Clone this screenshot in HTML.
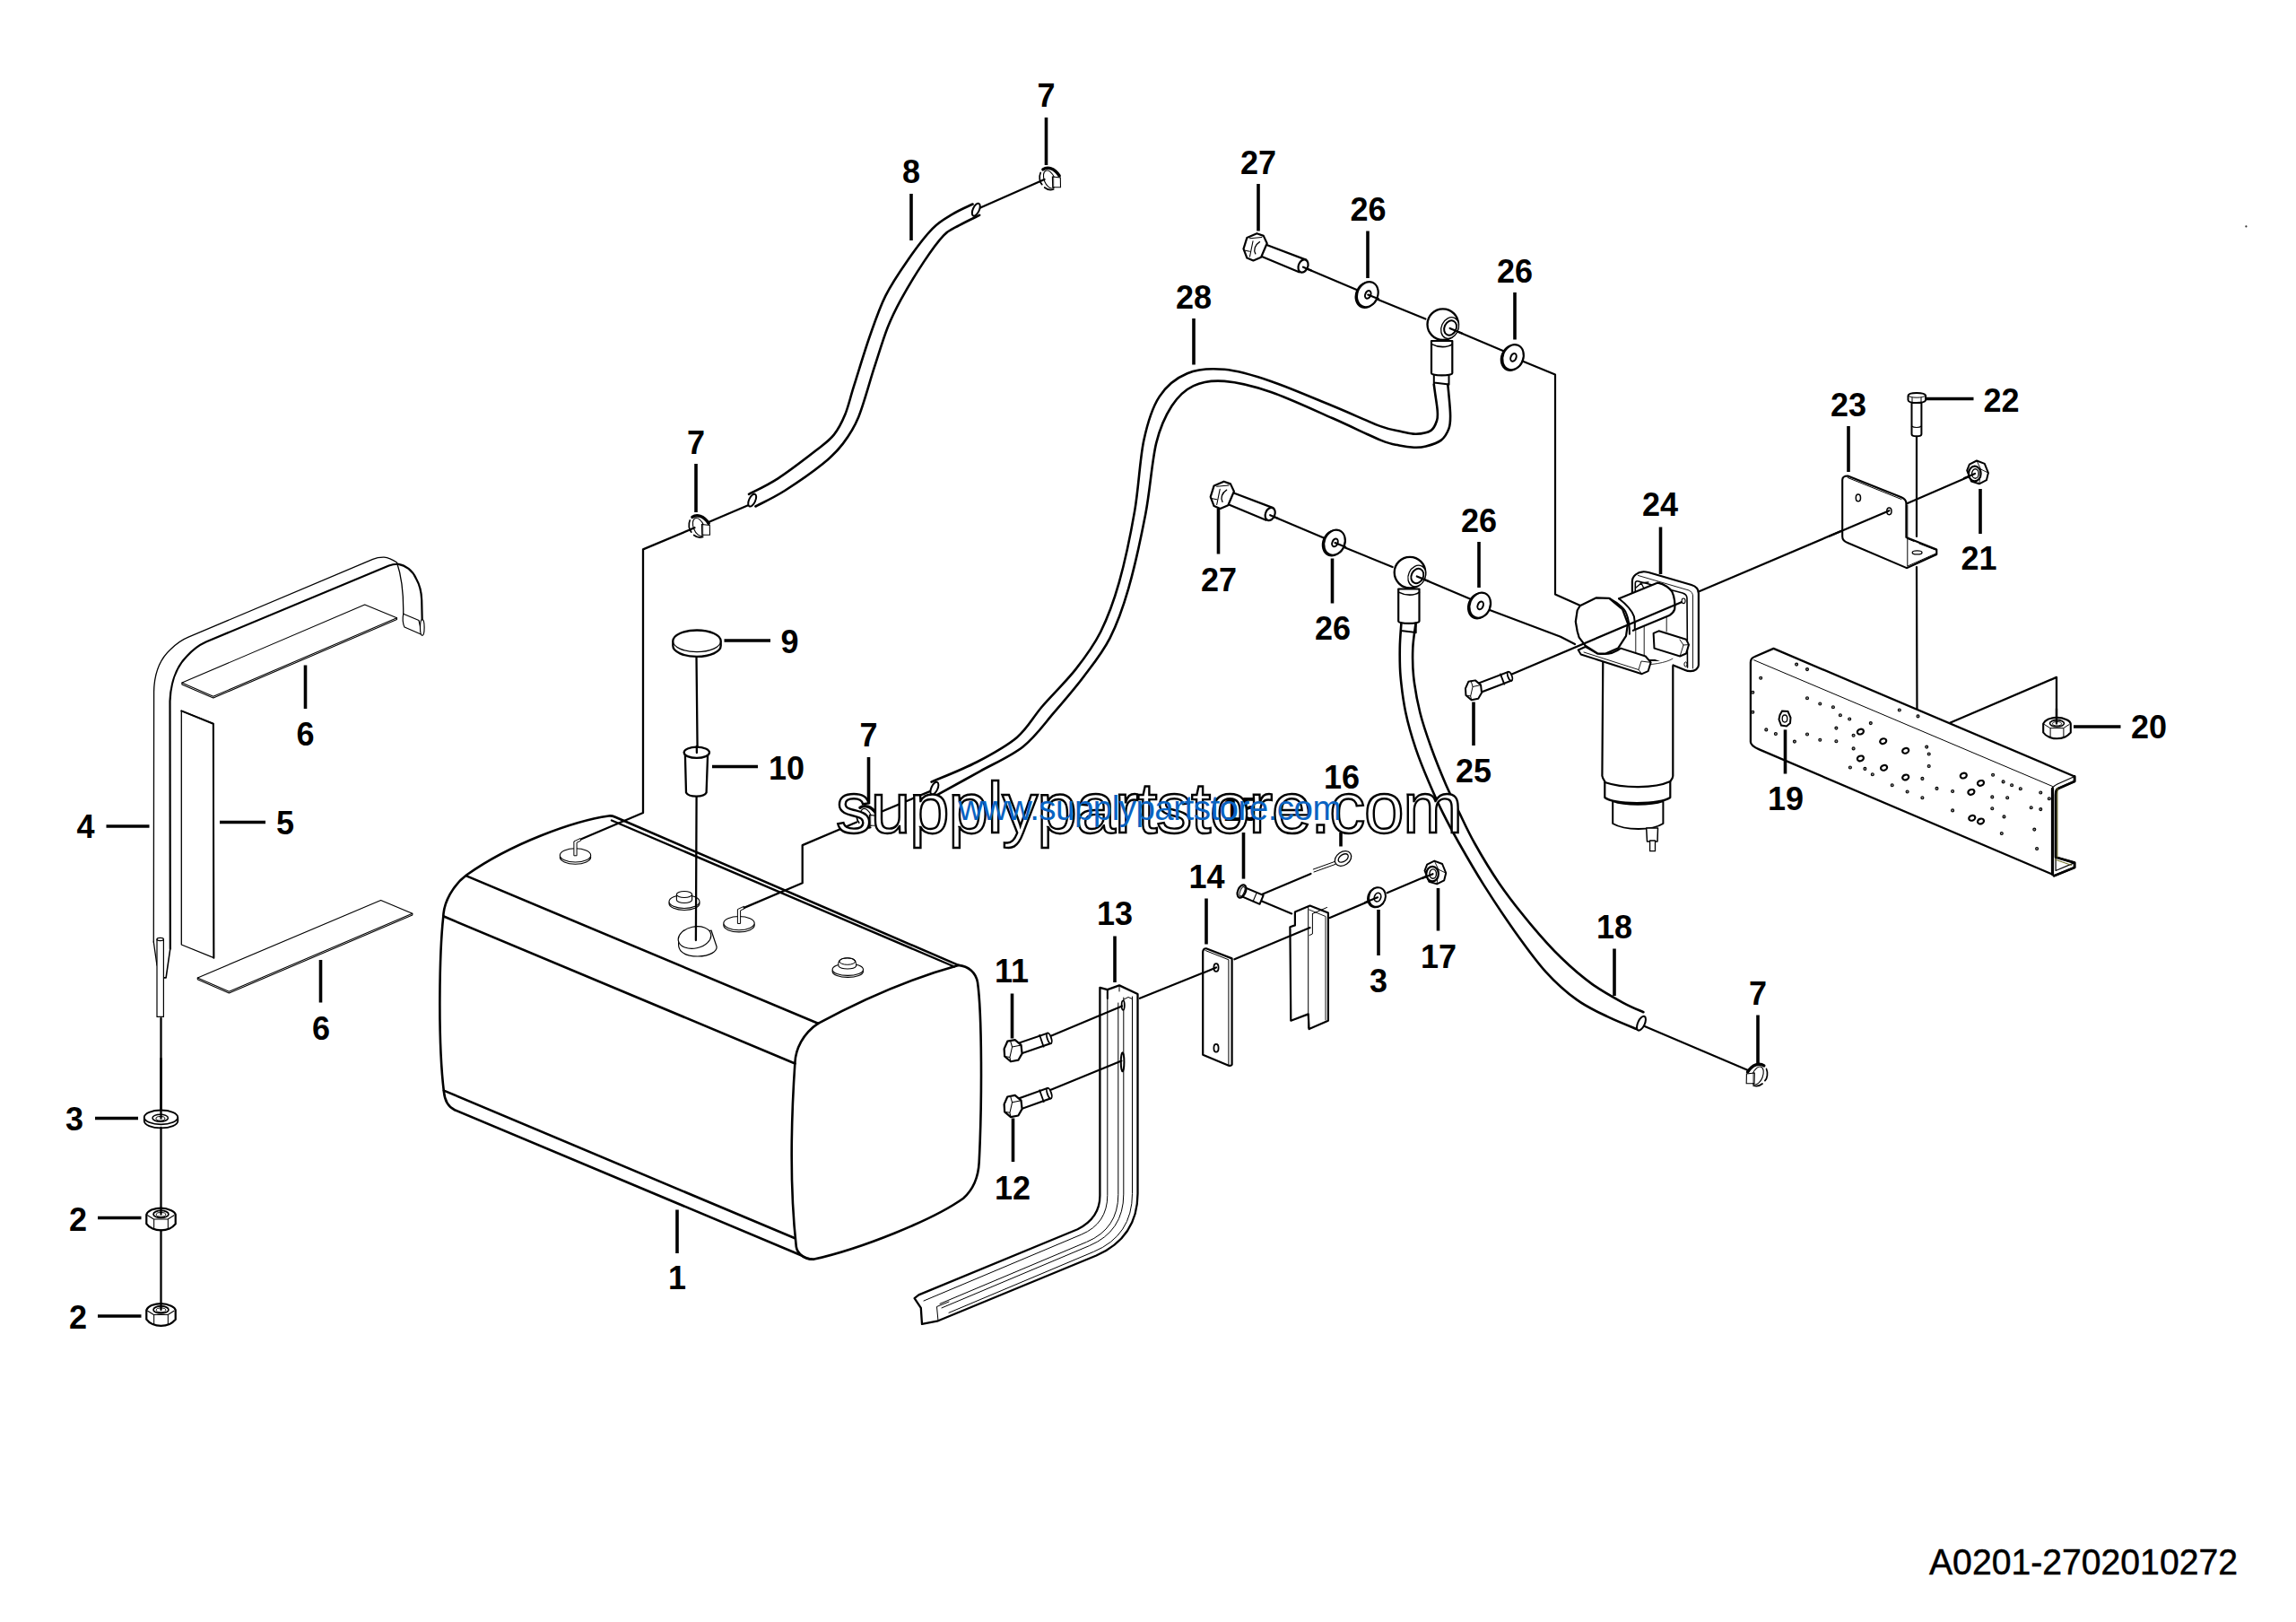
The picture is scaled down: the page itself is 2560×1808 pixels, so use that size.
<!DOCTYPE html><html><head><meta charset="utf-8"><style>html,body{margin:0;padding:0;background:#fff;overflow:hidden}svg{display:block}</style></head><body><svg width="2560" height="1808" viewBox="0 0 2560 1808">
<rect width="2560" height="1808" fill="#fff"/>
<path d="M678.8 909.5 C640 915 570 940 520 975.5 C505 987 495 1005 494.3 1021.3 C490 1060 488 1160 494.9 1216.9 C496 1228 500 1234 507 1237.2 L893.2 1399.2 C897 1402 901 1403.8 906.7 1403.8 C960 1392 1040 1360 1074.1 1335.7 C1086 1325 1091 1310 1091.7 1295.2 C1095 1230 1095 1130 1090 1095 C1088 1084 1080 1077 1068.6 1075.9 L686 910.8 C683 909.5 681 909.2 678.8 909.5 Z" fill="#fff" stroke="#000" stroke-width="2.6" stroke-linejoin="round"/>
<path d="M520.1 976.4 L912.1 1140.8" fill="none" stroke="#000" stroke-width="2.6" stroke-linejoin="round" stroke-linecap="round" />
<path d="M912.1 1140.8 C960 1115 1010 1092 1068.6 1075.9" fill="none" stroke="#000" stroke-width="2.6" stroke-linejoin="round" stroke-linecap="round" />
<path d="M494.3 1021.3 L886.4 1185.5" fill="none" stroke="#000" stroke-width="2.6" stroke-linejoin="round" stroke-linecap="round" />
<path d="M912.1 1140.8 C895 1152 887 1170 886.4 1184.5 C882 1250 880 1320 887.8 1389.8 C889 1398 897 1403 906.7 1403.8" fill="none" stroke="#000" stroke-width="2.6" stroke-linejoin="round" stroke-linecap="round" />
<path d="M494.9 1215.6 L886.4 1380.3" fill="none" stroke="#000" stroke-width="2.6" stroke-linejoin="round" stroke-linecap="round" />
<path d="M682 914.5 L1064 1077.5" fill="none" stroke="#000" stroke-width="2.4" stroke-linejoin="round" stroke-linecap="round" />
<ellipse cx="641.5" cy="955.6" rx="17.2" ry="7.6" fill="#fff" stroke="#000" stroke-width="1.1" transform="rotate(0 641.5 955.6)"/>
<ellipse cx="641.5" cy="953.4" rx="17.2" ry="7.6" fill="#fff" stroke="#000" stroke-width="1.1" transform="rotate(0 641.5 953.4)"/>
<path d="M639.9 953.4 L639.9 937.9 L647.0 934.6 L647.7 937.0 L643.1 939.2 L643.1 953.4 Z" fill="#fff" stroke="#000" stroke-width="1.0" stroke-linejoin="round" stroke-linecap="round"/>
<ellipse cx="824" cy="1031.3" rx="17.2" ry="7.6" fill="#fff" stroke="#000" stroke-width="1.1" transform="rotate(0 824 1031.3)"/>
<ellipse cx="824" cy="1029.1" rx="17.2" ry="7.6" fill="#fff" stroke="#000" stroke-width="1.1" transform="rotate(0 824 1029.1)"/>
<path d="M822.4 1029.1 L822.4 1013.6 L829.5 1010.3 L830.2 1012.7 L825.6 1014.9 L825.6 1029.1 Z" fill="#fff" stroke="#000" stroke-width="1.0" stroke-linejoin="round" stroke-linecap="round"/>
<ellipse cx="763" cy="1007" rx="17" ry="7.5" fill="#fff" stroke="#000" stroke-width="1.1" transform="rotate(0 763 1007)"/>
<ellipse cx="763" cy="1005" rx="17" ry="7.5" fill="#fff" stroke="#000" stroke-width="1.1" transform="rotate(0 763 1005)"/>
<path d="M754.4 997 L754.4 1003 A8.6 3.5 0 0 0 771.6 1003 L771.6 997" fill="#fff" stroke="#000" stroke-width="1.1" stroke-linejoin="round" stroke-linecap="round"/>
<ellipse cx="763" cy="997" rx="8.6" ry="3.5" fill="#fff" stroke="#000" stroke-width="1.1" transform="rotate(0 763 997)"/>
<path d="M757 1049 C755 1058 760 1066 778 1066 C792 1066 800 1060 799 1055 L793 1037 Z" fill="#fff" stroke="#000" stroke-width="1.2" stroke-linejoin="round" stroke-linecap="round"/>
<ellipse cx="774.5" cy="1045" rx="18.5" ry="12" fill="#fff" stroke="#000" stroke-width="1.2" transform="rotate(-12 774.5 1045)"/>
<ellipse cx="945.3" cy="1082.7" rx="17.2" ry="6.7" fill="#fff" stroke="#000" stroke-width="1.1" transform="rotate(0 945.3 1082.7)"/>
<ellipse cx="945.3" cy="1080.7" rx="17.2" ry="6.7" fill="#fff" stroke="#000" stroke-width="1.1" transform="rotate(0 945.3 1080.7)"/>
<path d="M935 1077 C934 1072 936 1068 944.8 1068 C953 1068 955 1072 954.6 1077 C952 1081 938 1081 935 1077 Z" fill="#fff" stroke="#000" stroke-width="1.1" stroke-linejoin="round" stroke-linecap="round"/>
<ellipse cx="944.8" cy="1071.5" rx="9" ry="3.8" fill="none" stroke="#000" stroke-width="1.0" transform="rotate(0 944.8 1071.5)"/>
<path d="M776.5 731.0 L777.6 835.0" fill="none" stroke="#000" stroke-width="2.3" stroke-linejoin="round" stroke-linecap="round" />
<path d="M776.6 888.0 L775.9 1048.0" fill="none" stroke="#000" stroke-width="2.3" stroke-linejoin="round" stroke-linecap="round" />
<path d="M750.3 714.6 A26.7 12.1 0 0 1 803.7 714.6 L803.7 719.8 A26.7 12.1 0 0 1 750.3 719.8 Z" fill="#fff" stroke="#000" stroke-width="2.3" stroke-linejoin="round" stroke-linecap="round"/>
<path d="M750.3 714.6 A26.7 12.1 0 0 0 803.7 714.6" fill="none" stroke="#000" stroke-width="1.2" stroke-linejoin="round" stroke-linecap="round" />
<path d="M763.9 841 L765 883.5 C768 889 785 889 787.6 883.5 L789.1 841 Z" fill="#fff" stroke="#000" stroke-width="2.3" stroke-linejoin="round" stroke-linecap="round"/>
<ellipse cx="776.8" cy="838.8" rx="14.2" ry="6.1" fill="#fff" stroke="#000" stroke-width="2.3" transform="rotate(0 776.8 838.8)"/>
<path d="M776.8 832.0 L776.9 839.0" fill="none" stroke="#000" stroke-width="2.3" stroke-linejoin="round" stroke-linecap="round" />
<path d="M648.2 935.3 L717.0 906.0 L717.0 612.4 L774.4 588.3" fill="none" stroke="#000" stroke-width="2.3" stroke-linejoin="round" stroke-linecap="round" />
<path d="M790.1 582.0 L837.0 562.0" fill="none" stroke="#000" stroke-width="2.3" stroke-linejoin="round" stroke-linecap="round" />
<path d="M829.7 1011.9 L894.7 984.2 L894.7 942.1 L955.0 916.5" fill="none" stroke="#000" stroke-width="2.3" stroke-linejoin="round" stroke-linecap="round" />
<path d="M978.0 906.8 L1042.8 879.6" fill="none" stroke="#000" stroke-width="2.3" stroke-linejoin="round" stroke-linecap="round" />
<path d="M1092.0 232.0 L1164.5 200.0" fill="none" stroke="#000" stroke-width="2.3" stroke-linejoin="round" stroke-linecap="round" />
<g transform="translate(779.7 586.5)" fill="none" stroke="#000" stroke-linecap="round">
<path d="M-10.5 -6.5 C-12.5 -2 -11.5 4 -8.9 6.7" stroke-width="1.7"/>
<path d="M-6 10 C-3 12.5 1 13 4 12" stroke-width="1.7"/>
<ellipse cx="-0.6" cy="1" rx="5.8" ry="10.5" transform="rotate(-22 -0.6 1)" stroke-width="1.1"/>
<path d="M-7.8 -10.1 C-3 -13.5 5 -12 10.5 -3" stroke-width="3.4"/>
<path d="M2.7 -2 L11.6 -1 L11.8 9.6 L3 9.8 Z" fill="#fff" stroke-width="1.1"/>
<path d="M4 -2 L4 9.5" stroke-width="0.8"/>
</g>
<g transform="translate(1170.7 199)" fill="none" stroke="#000" stroke-linecap="round">
<path d="M-10.5 -6.5 C-12.5 -2 -11.5 4 -8.9 6.7" stroke-width="1.7"/>
<path d="M-6 10 C-3 12.5 1 13 4 12" stroke-width="1.7"/>
<ellipse cx="-0.6" cy="1" rx="5.8" ry="10.5" transform="rotate(-22 -0.6 1)" stroke-width="1.1"/>
<path d="M-7.8 -10.1 C-3 -13.5 5 -12 10.5 -3" stroke-width="3.4"/>
<path d="M2.7 -2 L11.6 -1 L11.8 9.6 L3 9.8 Z" fill="#fff" stroke-width="1.1"/>
<path d="M4 -2 L4 9.5" stroke-width="0.8"/>
</g>
<g transform="translate(966.7 910.4)" fill="none" stroke="#000" stroke-linecap="round">
<path d="M-10.5 -6.5 C-12.5 -2 -11.5 4 -8.9 6.7" stroke-width="1.7"/>
<path d="M-6 10 C-3 12.5 1 13 4 12" stroke-width="1.7"/>
<ellipse cx="-0.6" cy="1" rx="5.8" ry="10.5" transform="rotate(-22 -0.6 1)" stroke-width="1.1"/>
<path d="M-7.8 -10.1 C-3 -13.5 5 -12 10.5 -3" stroke-width="3.4"/>
<path d="M2.7 -2 L11.6 -1 L11.8 9.6 L3 9.8 Z" fill="#fff" stroke-width="1.1"/>
<path d="M4 -2 L4 9.5" stroke-width="0.8"/>
</g>
<path d="M835.0 550.8 C840.4 547.9 854.9 541.4 867.4 533.3 C879.9 525.2 899.5 510.1 909.9 502.0 C920.3 493.9 924.4 491.3 929.8 484.6 C935.2 477.9 938.5 471.1 942.3 462.0 C946.0 452.9 947.7 444.2 952.3 429.7 C956.9 415.2 964.0 391.4 969.8 374.8 C975.6 358.2 980.2 344.0 987.3 329.8 C994.4 315.6 1003.5 302.4 1012.2 289.9 C1020.9 277.4 1031.4 263.4 1039.7 254.9 C1048.0 246.4 1054.7 243.3 1062.2 238.7 C1069.7 234.1 1080.9 229.4 1084.6 227.5" fill="none" stroke="#000" stroke-width="2.6" stroke-linejoin="round" stroke-linecap="round" />
<path d="M842.4 564.5 C847.8 561.6 862.4 554.9 874.9 547.0 C887.4 539.1 906.6 525.8 917.4 517.1 C928.2 508.4 933.1 503.3 939.8 494.6 C946.4 485.9 951.5 478.9 957.3 464.7 C963.1 450.5 969.4 426.3 974.8 409.7 C980.2 393.1 984.8 377.5 989.8 364.8 C994.8 352.1 998.1 345.7 1004.7 333.6 C1011.4 321.5 1021.8 304.3 1029.7 292.4 C1037.6 280.5 1045.6 269.3 1052.2 262.4 C1058.8 255.5 1062.9 254.9 1069.6 251.2 C1076.2 247.4 1088.3 241.8 1092.1 239.9" fill="none" stroke="#000" stroke-width="2.6" stroke-linejoin="round" stroke-linecap="round" />
<ellipse cx="838.7" cy="557.6" rx="3.5" ry="7.5" fill="#fff" stroke="#000" stroke-width="2.0" transform="rotate(25 838.7 557.6)"/>
<ellipse cx="1088.3" cy="233.7" rx="3.5" ry="7.5" fill="#fff" stroke="#000" stroke-width="2.0" transform="rotate(25 1088.3 233.7)"/>
<path d="M1598.8 428.8 C1599.1 430.8 1599.8 436.2 1600.5 441.0 C1601.2 445.8 1602.4 453.0 1602.7 457.6 C1603.0 462.2 1603.3 465.0 1602.1 468.7 C1600.9 472.4 1599.4 477.3 1595.5 479.8 C1591.6 482.3 1584.3 483.5 1578.8 483.7 C1573.2 483.9 1568.7 482.3 1562.2 480.9 C1555.7 479.5 1552.7 480.1 1540.0 475.4 C1527.3 470.7 1506.5 460.9 1486.0 452.5 C1465.5 444.1 1437.1 431.7 1417.0 424.9 C1396.9 418.1 1380.7 413.2 1365.2 411.8 C1349.7 410.4 1335.9 411.1 1323.8 416.2 C1311.7 421.2 1300.8 429.7 1292.7 442.1 C1284.6 454.5 1280.0 469.2 1275.4 490.5 C1270.8 511.8 1269.7 543.4 1265.1 569.9 C1260.5 596.4 1254.1 626.8 1247.8 649.2 C1241.5 671.6 1235.1 688.4 1227.1 704.5 C1219.0 720.6 1210.3 732.1 1199.5 745.9 C1188.7 759.7 1172.9 774.8 1162.0 787.5 C1151.1 800.2 1146.1 811.6 1133.9 821.9 C1121.7 832.2 1104.9 841.2 1089.0 849.5 C1073.1 857.8 1046.9 867.9 1038.5 871.6" fill="none" stroke="#000" stroke-width="2.6" stroke-linejoin="round" stroke-linecap="round" />
<path d="M1614.3 428.8 C1614.5 430.8 1615.0 435.3 1615.5 441.0 C1616.0 446.7 1617.1 457.1 1617.1 463.2 C1617.1 469.3 1617.2 473.0 1615.5 477.6 C1613.8 482.2 1610.9 487.6 1606.6 490.9 C1602.3 494.2 1594.9 496.2 1589.9 497.5 C1584.9 498.8 1581.6 498.9 1576.6 498.7 C1571.6 498.5 1566.1 497.7 1560.0 496.4 C1553.9 495.1 1552.3 495.9 1540.0 490.9 C1527.7 485.9 1506.5 475.3 1486.0 466.3 C1465.5 457.3 1437.1 443.9 1417.0 437.0 C1396.9 430.1 1379.6 426.0 1365.2 424.9 C1350.8 423.8 1340.5 425.5 1330.7 430.1 C1320.9 434.7 1313.4 441.9 1306.5 452.5 C1299.6 463.1 1294.1 473.8 1289.2 493.9 C1284.3 514.0 1282.4 546.3 1277.2 573.3 C1272.0 600.3 1264.8 633.1 1258.2 656.1 C1251.6 679.1 1245.8 695.0 1237.5 711.4 C1229.2 727.8 1218.5 740.7 1208.1 754.5 C1197.7 768.3 1186.5 781.2 1175.3 794.2 C1164.1 807.2 1154.6 821.3 1140.8 832.2 C1127.0 843.1 1108.4 850.9 1092.5 859.8 C1076.6 868.7 1053.2 881.5 1045.3 885.8" fill="none" stroke="#000" stroke-width="2.6" stroke-linejoin="round" stroke-linecap="round" />
<ellipse cx="1041.9" cy="878.7" rx="3.5" ry="7.5" fill="#fff" stroke="#000" stroke-width="2.0" transform="rotate(25 1041.9 878.7)"/>
<path d="M171.3 1050 L171.6 770.9 C172 750 178 735 190 724 C196 718 203 713 210.1 710.1 L415.7 623.4 C420 621.5 424 621 428.2 621.1 C433 621.5 438 624 442.5 627 C447 640 450 660 449.7 684" fill="none" stroke="#000" stroke-width="1.3" stroke-linejoin="round" stroke-linecap="round" />
<path d="M189.8 1057.5 L189.5 781.6 C190 765 195 745 208.3 731.6 C215 724 222 719 229.7 715.5 L433.6 630.6 C437 629.2 441 628.6 444.3 628.8 C452 630 460 636 464 645 C468 652 470 662 470.2 669 L470.7 692" fill="none" stroke="#000" stroke-width="2.2" stroke-linejoin="round" stroke-linecap="round" />
<path d="M171.3 1050 L175 1076" fill="none" stroke="#000" stroke-width="1.3" stroke-linejoin="round" stroke-linecap="round" />
<path d="M189.8 1057.5 L185.1 1089.9 L183.3 1089.9" fill="none" stroke="#000" stroke-width="1.6" stroke-linejoin="round" stroke-linecap="round" />
<path d="M449.7 684.2 L467 691.5 L470.5 707.5 L451 699 C449 695 449 688 449.7 684.2 Z" fill="#fff" stroke="#000" stroke-width="1.2" stroke-linejoin="round" stroke-linecap="round"/>
<ellipse cx="470.8" cy="699.5" rx="2.3" ry="8.8" fill="#fff" stroke="#000" stroke-width="1.2" transform="rotate(0 470.8 699.5)"/>
<path d="M175 1047 L175 1133.4 L182.4 1133.4 L182.4 1047" fill="#fff" stroke="#000" stroke-width="1.2" stroke-linejoin="round" stroke-linecap="round"/>
<ellipse cx="178.7" cy="1047" rx="3.7" ry="1.6" fill="#fff" stroke="#000" stroke-width="1.2" transform="rotate(0 178.7 1047)"/>
<path d="M179.5 1135.2 L179.5 1240.0" fill="none" stroke="#000" stroke-width="2.3" stroke-linejoin="round" stroke-linecap="round" />
<path d="M202.9 761.1 L406.7 674 L442.5 688.7 L442.5 690.5 L237.8 778 L202.9 762.9 Z" fill="#fff" stroke="#000" stroke-width="1.1" stroke-linejoin="round" stroke-linecap="round"/>
<path d="M202.9 761.1 L237.8 776.3 L442.5 688.7" fill="none" stroke="#000" stroke-width="1.1" stroke-linejoin="round" stroke-linecap="round" />
<path d="M202.3 792.4 L237.8 806.7 L238.4 1067.7 L202.3 1053 Z" fill="#fff" stroke="#000" stroke-width="1.3" stroke-linejoin="round" stroke-linecap="round"/>
<path d="M202.3 792.4 L237.8 806.7 L238.4 1067.7" fill="none" stroke="#000" stroke-width="2.0" stroke-linejoin="round" stroke-linecap="round" />
<path d="M220.3 1089.9 L424.6 1003.5 L459.8 1018.3 L459.8 1020 L255.4 1107 L220.3 1091.7 Z" fill="#fff" stroke="#000" stroke-width="1.1" stroke-linejoin="round" stroke-linecap="round"/>
<path d="M220.3 1089.9 L255.4 1105.3 L459.8 1018.3" fill="none" stroke="#000" stroke-width="1.1" stroke-linejoin="round" stroke-linecap="round" />
<path d="M160.8 1245.4 L160.8 1249.5 A18.7 7.9 0 0 0 198.3 1249.5 L198.3 1245.4" fill="#fff" stroke="#000" stroke-width="1.8" stroke-linejoin="round" stroke-linecap="round"/>
<ellipse cx="179.5" cy="1245.4" rx="18.7" ry="7.9" fill="#fff" stroke="#000" stroke-width="1.8" transform="rotate(0 179.5 1245.4)"/>
<ellipse cx="178.7" cy="1246.2" rx="8.7" ry="4.0" fill="none" stroke="#000" stroke-width="1.5" transform="rotate(0 178.7 1246.2)"/>
<ellipse cx="178.9" cy="1246.8" rx="5.0" ry="2.3" fill="none" stroke="#000" stroke-width="1.0" transform="rotate(0 178.9 1246.8)"/>
<path d="M179.5 1180.0 L179.5 1246.5" fill="none" stroke="#000" stroke-width="2.3" stroke-linejoin="round" stroke-linecap="round" />
<g transform="translate(179.5 1359) rotate(0) scale(1.06)" fill="#fff" stroke="#000" stroke-linejoin="round">
<path d="M-15.3 -4.9 C-14 -8 -12 -9 -10 -9.9 C-6 -11.3 -3 -11.7 0 -11.7 C3 -11.7 7 -11 10.8 -9.3 C13 -8.3 15 -6.5 15.3 -4.9 L15.3 4.9 C13 7.5 11 9 9 9.9 C6 11.2 3 11.7 0 11.7 C-3 11.7 -6 11.2 -8.8 9.9 C-11 9 -13.5 7.5 -15.3 4.9 Z" stroke-width="2.1"/>
<path d="M-14.4 -4.3 L-7.6 0 L7.2 0 L14 -4.3 M-7.4 0 L-7.4 9.9 M7.4 0 L7.4 9.9" fill="none" stroke-width="1.0"/>
<ellipse cx="0" cy="-5.3" rx="8" ry="3.7" fill="none" stroke-width="1.6"/>
<ellipse cx="0" cy="-4.9" rx="5" ry="2.2" fill="none" stroke-width="0.9"/>
</g>
<g transform="translate(179.5 1465.5) rotate(0) scale(1.06)" fill="#fff" stroke="#000" stroke-linejoin="round">
<path d="M-15.3 -4.9 C-14 -8 -12 -9 -10 -9.9 C-6 -11.3 -3 -11.7 0 -11.7 C3 -11.7 7 -11 10.8 -9.3 C13 -8.3 15 -6.5 15.3 -4.9 L15.3 4.9 C13 7.5 11 9 9 9.9 C6 11.2 3 11.7 0 11.7 C-3 11.7 -6 11.2 -8.8 9.9 C-11 9 -13.5 7.5 -15.3 4.9 Z" stroke-width="2.1"/>
<path d="M-14.4 -4.3 L-7.6 0 L7.2 0 L14 -4.3 M-7.4 0 L-7.4 9.9 M7.4 0 L7.4 9.9" fill="none" stroke-width="1.0"/>
<ellipse cx="0" cy="-5.3" rx="8" ry="3.7" fill="none" stroke-width="1.6"/>
<ellipse cx="0" cy="-4.9" rx="5" ry="2.2" fill="none" stroke-width="0.9"/>
</g>
<path d="M179.5 1257.0 L179.5 1353.5" fill="none" stroke="#000" stroke-width="2.3" stroke-linejoin="round" stroke-linecap="round" />
<path d="M179.5 1371.5 L179.5 1460.0" fill="none" stroke="#000" stroke-width="2.3" stroke-linejoin="round" stroke-linecap="round" />
<path d="M1452.3 297.4 L1515.0 324.1" fill="none" stroke="#000" stroke-width="2.2" stroke-linejoin="round" stroke-linecap="round" />
<path d="M1526.8 330.0 L1589.4 355.5" fill="none" stroke="#000" stroke-width="2.2" stroke-linejoin="round" stroke-linecap="round" />
<path d="M1616.6 366.0 L1678.1 392.1" fill="none" stroke="#000" stroke-width="2.2" stroke-linejoin="round" stroke-linecap="round" />
<g transform="translate(1399 276) rotate(0) scale(1.0)" stroke="#000" stroke-linejoin="round" stroke-linecap="round"><path d="M5.5 -6 L57.2 13.6 L49.4 27.3 L0.8 6.9 Z" fill="#fff" stroke-width="2.2"/><ellipse cx="54" cy="20.5" rx="5.2" ry="7.4" transform="rotate(22 54 20.5)" fill="#fff" stroke-width="2.2"/><path d="M-12.5 1.4 L-8.6 -11.1 L2.4 -15.8 L9.8 -13.1 L13.7 -4.8 L7.1 10.8 L-1.6 14.4 L-8.6 11.6 Z" fill="#fff" stroke-width="2.2"/><path d="M-5.5 -10.3 L7.8 -11.5 M-2 -7.2 L-5.5 10 M-11.8 3 L-5.5 4.2" fill="none" stroke-width="1.1"/><path d="M5.5 -6.4 C0 -3 -1.5 3 0.8 6.9" fill="none" stroke-width="1.3"/></g>
<g transform="translate(1524.8 328.2) rotate(0) scale(1.0)" stroke="#000" stroke-linejoin="round" stroke-linecap="round"><ellipse cx="-1.3" cy="0.6" rx="11.4" ry="14.4" transform="rotate(22 -1.3 0.6)" fill="#fff" stroke-width="2.2"/><ellipse cx="0" cy="0" rx="11.4" ry="14.4" transform="rotate(22)" fill="#fff" stroke-width="2.2"/><ellipse cx="0.5" cy="0" rx="3.0" ry="4.6" transform="rotate(22)" fill="#fff" stroke-width="2.0"/></g>
<g transform="translate(1608.8 361.6) rotate(0) scale(1.0)" stroke="#000" stroke-linejoin="round" stroke-linecap="round"><path d="M-12.8 18.4 L-12.8 54.5 C-12.8 57.5 10.5 57.5 10.5 54.5 L10.5 18.4 Z" fill="#fff" stroke-width="2.2"/><path d="M-12.5 22 C-5 26 5 26 10.5 22" fill="none" stroke-width="1.6"/><path d="M-10 57 L-10 67.2 M6.7 57 L6.7 67.2 M-10 65 L6.7 67" fill="none" stroke-width="2.0"/><circle cx="0" cy="0" r="17.3" fill="#fff" stroke-width="2.3"/><ellipse cx="7.8" cy="3.9" rx="9.4" ry="12.2" transform="rotate(25 7.8 3.9)" fill="#fff" stroke-width="1.3"/><ellipse cx="8.3" cy="3.9" rx="6.6" ry="8.5" transform="rotate(25 8.3 3.9)" fill="none" stroke-width="2.0"/></g>
<g transform="translate(1687 398.2) rotate(0) scale(1.0)" stroke="#000" stroke-linejoin="round" stroke-linecap="round"><ellipse cx="-1.3" cy="0.6" rx="11.4" ry="14.4" transform="rotate(22 -1.3 0.6)" fill="#fff" stroke-width="2.2"/><ellipse cx="0" cy="0" rx="11.4" ry="14.4" transform="rotate(22)" fill="#fff" stroke-width="2.2"/><ellipse cx="0.5" cy="0" rx="3.0" ry="4.6" transform="rotate(22)" fill="#fff" stroke-width="2.0"/></g>
<path d="M1616.6 366.0 L1630.0 371.6" fill="none" stroke="#000" stroke-width="2.2" stroke-linejoin="round" stroke-linecap="round" />
<path d="M1525.3 328.6 L1537.0 333.3" fill="none" stroke="#000" stroke-width="2.2" stroke-linejoin="round" stroke-linecap="round" />
<path d="M1453.0 297.7 L1462.0 301.5" fill="none" stroke="#000" stroke-width="2.2" stroke-linejoin="round" stroke-linecap="round" />
<path d="M1415.5 573.9 L1478.2 600.6" fill="none" stroke="#000" stroke-width="2.2" stroke-linejoin="round" stroke-linecap="round" />
<path d="M1490.0 606.5 L1552.6 632.0" fill="none" stroke="#000" stroke-width="2.2" stroke-linejoin="round" stroke-linecap="round" />
<path d="M1579.8 642.5 L1641.3 668.6" fill="none" stroke="#000" stroke-width="2.2" stroke-linejoin="round" stroke-linecap="round" />
<g transform="translate(1362.2 552.5) rotate(0) scale(1.0)" stroke="#000" stroke-linejoin="round" stroke-linecap="round"><path d="M5.5 -6 L57.2 13.6 L49.4 27.3 L0.8 6.9 Z" fill="#fff" stroke-width="2.2"/><ellipse cx="54" cy="20.5" rx="5.2" ry="7.4" transform="rotate(22 54 20.5)" fill="#fff" stroke-width="2.2"/><path d="M-12.5 1.4 L-8.6 -11.1 L2.4 -15.8 L9.8 -13.1 L13.7 -4.8 L7.1 10.8 L-1.6 14.4 L-8.6 11.6 Z" fill="#fff" stroke-width="2.2"/><path d="M-5.5 -10.3 L7.8 -11.5 M-2 -7.2 L-5.5 10 M-11.8 3 L-5.5 4.2" fill="none" stroke-width="1.1"/><path d="M5.5 -6.4 C0 -3 -1.5 3 0.8 6.9" fill="none" stroke-width="1.3"/></g>
<g transform="translate(1488.0 604.7) rotate(0) scale(1.0)" stroke="#000" stroke-linejoin="round" stroke-linecap="round"><ellipse cx="-1.3" cy="0.6" rx="11.4" ry="14.4" transform="rotate(22 -1.3 0.6)" fill="#fff" stroke-width="2.2"/><ellipse cx="0" cy="0" rx="11.4" ry="14.4" transform="rotate(22)" fill="#fff" stroke-width="2.2"/><ellipse cx="0.5" cy="0" rx="3.0" ry="4.6" transform="rotate(22)" fill="#fff" stroke-width="2.0"/></g>
<g transform="translate(1572.0 638.1) rotate(0) scale(1.0)" stroke="#000" stroke-linejoin="round" stroke-linecap="round"><path d="M-12.8 18.4 L-12.8 54.5 C-12.8 57.5 10.5 57.5 10.5 54.5 L10.5 18.4 Z" fill="#fff" stroke-width="2.2"/><path d="M-12.5 22 C-5 26 5 26 10.5 22" fill="none" stroke-width="1.6"/><path d="M-10 57 L-10 67.2 M6.7 57 L6.7 67.2 M-10 65 L6.7 67" fill="none" stroke-width="2.0"/><circle cx="0" cy="0" r="17.3" fill="#fff" stroke-width="2.3"/><ellipse cx="7.8" cy="3.9" rx="9.4" ry="12.2" transform="rotate(25 7.8 3.9)" fill="#fff" stroke-width="1.3"/><ellipse cx="8.3" cy="3.9" rx="6.6" ry="8.5" transform="rotate(25 8.3 3.9)" fill="none" stroke-width="2.0"/></g>
<g transform="translate(1650.2 674.7) rotate(0) scale(1.0)" stroke="#000" stroke-linejoin="round" stroke-linecap="round"><ellipse cx="-1.3" cy="0.6" rx="11.4" ry="14.4" transform="rotate(22 -1.3 0.6)" fill="#fff" stroke-width="2.2"/><ellipse cx="0" cy="0" rx="11.4" ry="14.4" transform="rotate(22)" fill="#fff" stroke-width="2.2"/><ellipse cx="0.5" cy="0" rx="3.0" ry="4.6" transform="rotate(22)" fill="#fff" stroke-width="2.0"/></g>
<path d="M1579.8 642.5 L1593.2 648.1" fill="none" stroke="#000" stroke-width="2.2" stroke-linejoin="round" stroke-linecap="round" />
<path d="M1488.5 605.1 L1500.2 609.8" fill="none" stroke="#000" stroke-width="2.2" stroke-linejoin="round" stroke-linecap="round" />
<path d="M1416.2 574.2 L1425.2 578.0" fill="none" stroke="#000" stroke-width="2.2" stroke-linejoin="round" stroke-linecap="round" />
<path d="M1562.4 694.8 C1562.1 699.3 1560.9 712.2 1560.8 722.1 C1560.7 732.0 1560.5 742.1 1561.6 754.1 C1562.7 766.1 1564.5 780.8 1567.3 794.2 C1570.1 807.6 1574.2 821.5 1578.5 834.3 C1582.8 847.1 1587.8 859.2 1592.9 871.2 C1598.0 883.2 1603.2 894.9 1608.9 906.4 C1614.6 917.9 1619.3 926.6 1626.9 940.0 C1634.5 953.4 1644.1 970.2 1654.5 986.6 C1664.9 1003.0 1677.6 1022.3 1689.1 1038.4 C1700.6 1054.5 1712.1 1070.6 1723.6 1083.3 C1735.1 1096.0 1746.6 1106.1 1758.1 1114.4 C1769.6 1122.8 1781.2 1127.8 1792.7 1133.4 C1804.2 1139.0 1821.5 1145.6 1827.2 1148.0" fill="none" stroke="#000" stroke-width="2.6" stroke-linejoin="round" stroke-linecap="round" />
<path d="M1578.5 694.8 C1578.0 699.3 1575.7 712.2 1575.3 722.1 C1574.9 732.0 1574.8 742.1 1576.1 754.1 C1577.4 766.1 1580.0 780.8 1583.3 794.2 C1586.6 807.6 1591.3 820.9 1596.1 834.3 C1600.9 847.7 1607.0 862.6 1612.1 874.4 C1617.2 886.1 1621.2 893.9 1626.6 904.8 C1631.9 915.7 1636.7 926.6 1644.2 940.0 C1651.7 953.4 1661.5 969.9 1671.8 984.9 C1682.1 999.9 1694.8 1016.0 1706.3 1029.8 C1717.8 1043.6 1729.4 1056.6 1740.9 1067.8 C1752.4 1079.0 1763.9 1088.8 1775.4 1097.1 C1786.9 1105.4 1800.4 1112.6 1809.9 1117.8 C1819.4 1123.0 1828.7 1126.5 1832.4 1128.2" fill="none" stroke="#000" stroke-width="2.6" stroke-linejoin="round" stroke-linecap="round" />
<ellipse cx="1830" cy="1140.7" rx="3.8" ry="8.5" fill="#fff" stroke="#000" stroke-width="2.0" transform="rotate(25 1830 1140.7)"/>
<path d="M1833.2 1143.7 L1949.0 1193.0" fill="none" stroke="#000" stroke-width="2.2" stroke-linejoin="round" stroke-linecap="round" />
<g transform="translate(1959 1198) scale(-1 1)" fill="none" stroke="#000" stroke-linecap="round">
<path d="M-10.5 -6.5 C-12.5 -2 -11.5 4 -8.9 6.7" stroke-width="1.7"/>
<path d="M-6 10 C-3 12.5 1 13 4 12" stroke-width="1.7"/>
<ellipse cx="-0.6" cy="1" rx="5.8" ry="10.5" transform="rotate(-22 -0.6 1)" stroke-width="1.1"/>
<path d="M-7.8 -10.1 C-3 -13.5 5 -12 10.5 -3" stroke-width="3.4"/>
<path d="M2.7 -2 L11.6 -1 L11.8 9.6 L3 9.8 Z" fill="#fff" stroke-width="1.1"/>
<path d="M4 -2 L4 9.5" stroke-width="0.8"/>
</g>
<path d="M1697.5 402.5 L1734.0 417.5 L1734.0 662.5 L1762.0 675.0" fill="none" stroke="#000" stroke-width="2.2" stroke-linejoin="round" stroke-linecap="round" />
<path d="M1661.0 680.0 L1740.0 709.8 L1756.0 718.0" fill="none" stroke="#000" stroke-width="2.2" stroke-linejoin="round" stroke-linecap="round" />
<path d="M1787.3 736 L1786.4 864.9 C1787 868 1789 870.5 1789.3 871 L1789.3 889 C1800 897 1850 897 1862.3 889 L1862.3 871 C1864 869 1865.3 867 1865.3 864.9 L1865.3 736 Z" fill="#fff" stroke="#000" stroke-width="2.2" stroke-linejoin="round" stroke-linecap="round"/>
<path d="M1789.3 872 C1810 879 1845 879 1862.3 871" fill="none" stroke="#000" stroke-width="2.2" stroke-linejoin="round" stroke-linecap="round" />
<path d="M1798.2 893 L1798.2 918 C1812 926 1842 926 1854.4 918 L1854.4 893 C1840 898 1812 898 1798.2 893 Z" fill="#fff" stroke="#000" stroke-width="2.0" stroke-linejoin="round" stroke-linecap="round"/>
<path d="M1835.7 923 L1836.5 938 L1848 938 L1848.5 923 Z" fill="#fff" stroke="#000" stroke-width="1.5" stroke-linejoin="round" stroke-linecap="round"/>
<path d="M1839.6 937 L1839.6 948.7 L1845.5 948.7 L1845.5 937 Z" fill="#fff" stroke="#000" stroke-width="1.3" stroke-linejoin="round" stroke-linecap="round"/>
<path d="M1819.9 648 C1820 642 1826 637.5 1831.7 637.3 C1834 637 1836 637.5 1838 638 L1886 652 C1891 653.5 1893.9 657 1893.9 661.4 L1893.9 741.3 C1893.9 745 1890 748.2 1885 748.2 C1883 748.2 1881 748 1879 747 L1820 726 Z" fill="#fff" stroke="none"/>
<path d="M1819.9 672 L1819.9 648 C1820 642 1826 637.5 1831.7 637.3 C1834 637 1836 637.5 1838 638 L1886 652 C1891 653.5 1893.9 657 1893.9 661.4 L1893.9 741.3 C1893.9 745 1890 748.2 1885 748.2 C1883 748.2 1881 748 1879 747 L1865.5 741.5" fill="none" stroke="#000" stroke-width="2.2" stroke-linejoin="round" stroke-linecap="round" />
<path d="M1823.3 668 L1823.3 650 C1823.3 648 1825 647.5 1827 648 L1876 661 C1879 662 1881 664 1881 667 L1881.5 744" fill="none" stroke="#000" stroke-width="1.6" stroke-linejoin="round" stroke-linecap="round" />
<path d="M1826.5 641.5 L1883 658 C1885.5 659 1887.5 661.5 1887.5 664 L1887.5 745" fill="none" stroke="#000" stroke-width="0.9" stroke-linejoin="round" stroke-linecap="round" />
<path d="M1824 655 L1830 650 L1833 656 M1829 650 L1838 649" fill="none" stroke="#000" stroke-width="1.3" stroke-linejoin="round" stroke-linecap="round" />
<path d="M1823.8 702 L1823.8 731 M1833.2 698 L1833.2 733 M1858.2 688 L1858.2 704" fill="none" stroke="#000" stroke-width="0.9" stroke-linejoin="round" stroke-linecap="round" />
<path d="M1787 736 C1800 743 1850 744 1865.3 734" fill="none" stroke="#000" stroke-width="0.8"/>
<path d="M1805.1 667.3 L1848.5 649.6 C1856 651 1862 656 1864.3 659.5 C1867 665 1868 674 1867.2 679.2 C1866 683 1863 685 1861.3 686.1 L1820.9 702.8 Z" fill="#fff" stroke="none"/>
<path d="M1805.1 667.3 L1848.5 649.6 C1856 651 1862 656 1864.3 659.5 C1867 665 1868 674 1867.2 679.2 C1866 683 1863 685 1861.3 686.1 L1820.9 702.8" fill="none" stroke="#000" stroke-width="2.2" stroke-linejoin="round" stroke-linecap="round" />
<path d="M1795.2 667.3 C1806 673 1812 680 1813 683.1 C1816 690 1817 700 1816.9 706.8" fill="none" stroke="#000" stroke-width="2.0" stroke-linejoin="round" stroke-linecap="round" />
<path d="M1805.1 667.3 C1815 675 1820 682 1821.9 687.1 C1823 692 1823 697 1822.8 700.9" fill="none" stroke="#000" stroke-width="2.0" stroke-linejoin="round" stroke-linecap="round" />
<path d="M1843.6 705.8 L1849.5 703.3 L1880 712.7 L1883 718.6 L1880 728.5 L1873.1 731.5 L1844.5 722.6 Z" fill="#fff" stroke="#000" stroke-width="2.0" stroke-linejoin="round" stroke-linecap="round"/>
<path d="M1873 713 L1877 719 L1873.1 731.5 M1877 719 L1883 718.6" fill="none" stroke="#000" stroke-width="0.9" stroke-linejoin="round" stroke-linecap="round" />
<path d="M1759.7 724.5 L1762.7 729.5 L1830.7 751.2 L1837.6 748.2 L1840.6 738.4 L1834.7 731.5 L1807.1 722.6 C1800 728 1790 730 1781 728.5 L1767.6 721 Z" fill="#fff" stroke="#000" stroke-width="2.0" stroke-linejoin="round" stroke-linecap="round"/>
<path d="M1766 727 L1827 746.5 L1830.7 751.2 M1827 746.5 L1830 737 L1840.6 738.4" fill="none" stroke="#000" stroke-width="0.9" stroke-linejoin="round" stroke-linecap="round" />
<path d="M1761.7 675.2 L1779.5 666.4 L1794.2 666.8 L1809 679.2 L1815 695 L1813 708.8 L1804.1 722.6 L1790.3 728.5 L1781.4 728.5 L1767.6 719.6 L1760.7 710.7 L1758.7 703.8 L1756.8 693 L1758.7 680.2 Z" fill="#fff" stroke="#000" stroke-width="2.2" stroke-linejoin="round" stroke-linecap="round"/>
<ellipse cx="1879.5" cy="740.5" rx="1.6" ry="2.6" fill="none" stroke="#000" stroke-width="1.0" transform="rotate(0 1879.5 740.5)"/>
<path d="M1685.1 751.7 L1877.1 670.3" fill="none" stroke="#000" stroke-width="2.2" stroke-linejoin="round" stroke-linecap="round" />
<ellipse cx="1877.1" cy="669.8" rx="2" ry="2.8" fill="#fff" stroke="#000" stroke-width="1.1" transform="rotate(0 1877.1 669.8)"/>
<path d="M1893.9 659.5 L2106.4 569.2" fill="none" stroke="#000" stroke-width="2.2" stroke-linejoin="round" stroke-linecap="round" />
<g transform="translate(1643 769.3) rotate(-20.94265054998827) scale(1.0)" stroke="#000" stroke-linejoin="round" stroke-linecap="round"><path d="M4 -5.2 L43.4 -5.2 L43.4 5.2 L4 5.2 Z" fill="#fff" stroke-width="2.1"/><path d="M34.4 -6.0 L34.4 6.0" stroke-width="1.8" fill="none"/><ellipse cx="43.4" cy="0" rx="2.2" ry="5.2" fill="#fff" stroke-width="1.8"/></g><g transform="translate(1643 769.3) rotate(0) scale(0.95)" stroke="#000" stroke-linejoin="round" stroke-linecap="round"><path d="M-9.5 -2 L-6 -10 L2 -11.5 L8.5 -6 L9.5 3 L5.5 10 L-2.5 11.5 L-9 6 Z" fill="#fff" stroke-width="2.1"/><path d="M-3 -11 L-1 -4 L8.5 -6 M-1 -4 L-3.5 7 L-9 6 M-3.5 7 L-2.5 11.5" fill="none" stroke-width="1.0"/></g>
<path d="M2054.2 535 C2054.2 532 2057 530.5 2060.3 530.5 L2120 554.2 C2123 555.5 2125.4 558 2125.4 561 L2125.4 599 L2159.3 612.5 L2159.3 618 L2126.8 632.9 C2126 633 2125.5 633 2125.4 632.9 L2060 605 C2056 603.5 2054.2 601 2054.2 598 Z" fill="#fff" stroke="#000" stroke-width="2.1" stroke-linejoin="round" stroke-linecap="round"/>
<path d="M2060.3 532.5 L2120 556.5" fill="none" stroke="#000" stroke-width="1.0" stroke-linejoin="round" stroke-linecap="round" />
<path d="M2126.8 563 L2126.8 631" fill="none" stroke="#000" stroke-width="1.0" stroke-linejoin="round" stroke-linecap="round" />
<path d="M2126.8 600.5 L2134 603.5 M2140 606 L2159.3 613.5" fill="none" stroke="#000" stroke-width="1.0" stroke-linejoin="round" stroke-linecap="round" />
<path d="M2127 631 L2158.5 617" fill="none" stroke="#000" stroke-width="1.0" stroke-linejoin="round" stroke-linecap="round" />
<ellipse cx="2071.9" cy="554.9" rx="2.6" ry="3.9" fill="none" stroke="#000" stroke-width="1.5" transform="rotate(0 2071.9 554.9)"/>
<ellipse cx="2106.4" cy="569.8" rx="2.6" ry="3.9" fill="none" stroke="#000" stroke-width="1.5" transform="rotate(0 2106.4 569.8)"/>
<ellipse cx="2137.6" cy="615.9" rx="5.4" ry="2.0" fill="none" stroke="#000" stroke-width="1.3" transform="rotate(0 2137.6 615.9)"/>
<path d="M2106.4 569.2 L2040.0 597.6" fill="none" stroke="#000" stroke-width="2.2" stroke-linejoin="round" stroke-linecap="round" />
<path d="M2126.8 561.0 L2196.0 531.0" fill="none" stroke="#000" stroke-width="2.2" stroke-linejoin="round" stroke-linecap="round" />
<g transform="translate(2205 526.5) rotate(0) scale(1.0)" stroke="#000" stroke-linejoin="round" stroke-linecap="round"><path d="M-11.8 -2.1 L-9.1 -8.9 L-1 -13 L7.8 -9.6 L11.9 0.6 L9.9 8.7 L1.8 12.8 L-7 10.1 Z" fill="#fff" stroke-width="2.0"/><path d="M-1 -13 L3.5 -3.5 L11.9 0.6 M3.5 -3.5 L1.8 12.8" fill="none" stroke-width="0.9"/><ellipse cx="-3.2" cy="1.5" rx="6.8" ry="8.3" fill="#fff" stroke-width="2.2"/><ellipse cx="-2.6" cy="1.5" rx="3.8" ry="5.2" fill="none" stroke-width="1.4"/></g>
<path d="M2190.0 533.0 L2202.0 528.0" fill="none" stroke="#000" stroke-width="2.2" stroke-linejoin="round" stroke-linecap="round" />
<path d="M2137.0 486.4 L2137.0 598.0" fill="none" stroke="#000" stroke-width="2.2" stroke-linejoin="round" stroke-linecap="round" />
<path d="M2137.0 632.0 L2137.5 800.0" fill="none" stroke="#000" stroke-width="2.2" stroke-linejoin="round" stroke-linecap="round" />
<path d="M2131.5 449 L2131.5 484 C2131.5 487 2142.4 487 2142.4 484 L2142.4 449 Z" fill="#fff" stroke="#000" stroke-width="2.0" stroke-linejoin="round" stroke-linecap="round"/>
<path d="M2131.5 475 C2134 477 2140 477 2142.4 475" fill="none" stroke="#000" stroke-width="1.2" stroke-linejoin="round" stroke-linecap="round" />
<path d="M2127.5 441 C2128 437 2146 437 2147.1 441 L2147.1 446 C2146 450 2128 450 2127.5 446 Z" fill="#fff" stroke="#000" stroke-width="2.0" stroke-linejoin="round" stroke-linecap="round"/>
<path d="M2127.5 441 C2130 444 2144 444 2147.1 441 M2132 443.5 L2132 449 M2142 443.5 L2142 449" fill="none" stroke="#000" stroke-width="1.0" stroke-linejoin="round" stroke-linecap="round" />
<path d="M1951.9 738.4 C1951.9 735 1953.5 733 1956.5 732 L1977.5 722.9 L2313.1 865.5 L2313.1 871 L2294.8 879 C2292.5 880.5 2292.1 882 2292.1 885.9 L2292.1 955.5 L2313.1 961.6 L2313.1 967 L2290.3 976.2 L2287.5 974.3 L1961.5 835.4 C1955 832.5 1951.9 830 1951.9 827 Z" fill="#fff" stroke="#000" stroke-width="2.3" stroke-linejoin="round" stroke-linecap="round"/>
<path d="M1955.5 735.7 L2288.5 876.5 L2287.5 974.3" fill="none" stroke="#000" stroke-width="1.0" stroke-linejoin="round" stroke-linecap="round" />
<path d="M2313.1 865.5 L2294 874 C2290 876 2288.5 877 2288.5 879" fill="none" stroke="#000" stroke-width="1.2" stroke-linejoin="round" stroke-linecap="round" />
<path d="M2292.1 955.5 L2292.1 970.5 L2313.1 961.6" fill="none" stroke="#000" stroke-width="1.2" stroke-linejoin="round" stroke-linecap="round" />
<path d="M2288.5 879 L2288.5 974" fill="none" stroke="#000" stroke-width="3.2" stroke-linejoin="round" stroke-linecap="round" />
<path d="M2313.1 865.5 L2313.1 871 L2294.8 879 C2292.5 880.5 2292.1 882 2292.1 885.9 L2292.1 955.5 L2313.1 961.6 L2313.1 967 L2290.3 976.2" fill="none" stroke="#000" stroke-width="2.8" stroke-linejoin="round" stroke-linecap="round" />
<path d="M2294 878 L2294 956 M2291 958 L2310 964.5" fill="none" stroke="#6b6b20" stroke-width="1.0"/>
<circle cx="2003.1" cy="740.6" r="1.5" fill="#888" stroke="#000" stroke-width="1.1"/>
<circle cx="2015.0" cy="746.1" r="1.5" fill="#888" stroke="#000" stroke-width="1.1"/>
<circle cx="1963.2" cy="755.8" r="1.5" fill="#888" stroke="#000" stroke-width="1.1"/>
<circle cx="1954.3" cy="771.7" r="1.5" fill="#888" stroke="#000" stroke-width="1.1"/>
<circle cx="1954.3" cy="793.7" r="1.5" fill="#888" stroke="#000" stroke-width="1.1"/>
<circle cx="2015.0" cy="778.3" r="1.5" fill="#888" stroke="#000" stroke-width="1.1"/>
<circle cx="2029.3" cy="784.5" r="1.5" fill="#888" stroke="#000" stroke-width="1.1"/>
<circle cx="2043.9" cy="788.2" r="1.5" fill="#888" stroke="#000" stroke-width="1.1"/>
<circle cx="2051.9" cy="797.3" r="1.5" fill="#888" stroke="#000" stroke-width="1.1"/>
<circle cx="2062.2" cy="801.5" r="1.5" fill="#888" stroke="#000" stroke-width="1.1"/>
<circle cx="2085.8" cy="806.1" r="1.5" fill="#888" stroke="#000" stroke-width="1.1"/>
<circle cx="2047.4" cy="811.6" r="1.5" fill="#888" stroke="#000" stroke-width="1.1"/>
<circle cx="1969.3" cy="813.4" r="1.5" fill="#888" stroke="#000" stroke-width="1.1"/>
<circle cx="1979.9" cy="818.0" r="1.5" fill="#888" stroke="#000" stroke-width="1.1"/>
<circle cx="2015.0" cy="818.5" r="1.5" fill="#888" stroke="#000" stroke-width="1.1"/>
<circle cx="2066.6" cy="819.8" r="1.5" fill="#888" stroke="#000" stroke-width="1.1"/>
<circle cx="2029.3" cy="824.7" r="1.5" fill="#888" stroke="#000" stroke-width="1.1"/>
<circle cx="2047.4" cy="826.2" r="1.5" fill="#888" stroke="#000" stroke-width="1.1"/>
<circle cx="2000.9" cy="826.6" r="1.5" fill="#888" stroke="#000" stroke-width="1.1"/>
<circle cx="2066.6" cy="834.4" r="1.5" fill="#888" stroke="#000" stroke-width="1.1"/>
<circle cx="2117.8" cy="791.5" r="1.5" fill="#888" stroke="#000" stroke-width="1.1"/>
<circle cx="2138.5" cy="798.4" r="1.5" fill="#888" stroke="#000" stroke-width="1.1"/>
<circle cx="2148.2" cy="832.6" r="1.5" fill="#888" stroke="#000" stroke-width="1.1"/>
<circle cx="2150.7" cy="840.5" r="1.5" fill="#888" stroke="#000" stroke-width="1.1"/>
<circle cx="2150.7" cy="854.0" r="1.5" fill="#888" stroke="#000" stroke-width="1.1"/>
<circle cx="2062.9" cy="855.5" r="1.5" fill="#888" stroke="#000" stroke-width="1.1"/>
<circle cx="2079.4" cy="856.9" r="1.5" fill="#888" stroke="#000" stroke-width="1.1"/>
<circle cx="2087.8" cy="863.3" r="1.5" fill="#888" stroke="#000" stroke-width="1.1"/>
<circle cx="2109.7" cy="875.2" r="1.5" fill="#888" stroke="#000" stroke-width="1.1"/>
<circle cx="2143.4" cy="867.9" r="1.5" fill="#888" stroke="#000" stroke-width="1.1"/>
<circle cx="2126.6" cy="882.5" r="1.5" fill="#888" stroke="#000" stroke-width="1.1"/>
<circle cx="2143.4" cy="889.3" r="1.5" fill="#888" stroke="#000" stroke-width="1.1"/>
<circle cx="2159.5" cy="878.9" r="1.5" fill="#888" stroke="#000" stroke-width="1.1"/>
<circle cx="2177.1" cy="882.0" r="1.5" fill="#888" stroke="#000" stroke-width="1.1"/>
<circle cx="2177.1" cy="903.4" r="1.5" fill="#888" stroke="#000" stroke-width="1.1"/>
<circle cx="2222.1" cy="863.7" r="1.5" fill="#888" stroke="#000" stroke-width="1.1"/>
<circle cx="2233.6" cy="871.4" r="1.5" fill="#888" stroke="#000" stroke-width="1.1"/>
<circle cx="2243.1" cy="875.2" r="1.5" fill="#888" stroke="#000" stroke-width="1.1"/>
<circle cx="2252.8" cy="879.3" r="1.5" fill="#888" stroke="#000" stroke-width="1.1"/>
<circle cx="2275.3" cy="883.5" r="1.5" fill="#888" stroke="#000" stroke-width="1.1"/>
<circle cx="2284.8" cy="890.2" r="1.5" fill="#888" stroke="#000" stroke-width="1.1"/>
<circle cx="2221.3" cy="888.4" r="1.5" fill="#888" stroke="#000" stroke-width="1.1"/>
<circle cx="2238.2" cy="889.3" r="1.5" fill="#888" stroke="#000" stroke-width="1.1"/>
<circle cx="2221.3" cy="901.2" r="1.5" fill="#888" stroke="#000" stroke-width="1.1"/>
<circle cx="2264.7" cy="900.3" r="1.5" fill="#888" stroke="#000" stroke-width="1.1"/>
<circle cx="2275.3" cy="902.1" r="1.5" fill="#888" stroke="#000" stroke-width="1.1"/>
<circle cx="2234.5" cy="910.4" r="1.5" fill="#888" stroke="#000" stroke-width="1.1"/>
<circle cx="2268.3" cy="924.6" r="1.5" fill="#888" stroke="#000" stroke-width="1.1"/>
<circle cx="2231.8" cy="929.0" r="1.5" fill="#888" stroke="#000" stroke-width="1.1"/>
<circle cx="2271.1" cy="946.0" r="1.5" fill="#888" stroke="#000" stroke-width="1.1"/>
<ellipse cx="2074.4" cy="815.6" rx="3.6" ry="2.8" transform="rotate(-20 2074.4 815.6)" fill="#fff" stroke="#000" stroke-width="2.2"/>
<ellipse cx="2099.7" cy="826.2" rx="3.6" ry="2.8" transform="rotate(-20 2099.7 826.2)" fill="#fff" stroke="#000" stroke-width="2.2"/>
<ellipse cx="2124.7" cy="836.8" rx="3.6" ry="2.8" transform="rotate(-20 2124.7 836.8)" fill="#fff" stroke="#000" stroke-width="2.2"/>
<ellipse cx="2074.4" cy="845.4" rx="3.6" ry="2.8" transform="rotate(-20 2074.4 845.4)" fill="#fff" stroke="#000" stroke-width="2.2"/>
<ellipse cx="2100.6" cy="855.8" rx="3.6" ry="2.8" transform="rotate(-20 2100.6 855.8)" fill="#fff" stroke="#000" stroke-width="2.2"/>
<ellipse cx="2124.7" cy="866.5" rx="3.6" ry="2.8" transform="rotate(-20 2124.7 866.5)" fill="#fff" stroke="#000" stroke-width="2.2"/>
<ellipse cx="2189.3" cy="864.6" rx="3.6" ry="2.8" transform="rotate(-20 2189.3 864.6)" fill="#fff" stroke="#000" stroke-width="2.2"/>
<ellipse cx="2208.5" cy="872.9" rx="3.6" ry="2.8" transform="rotate(-20 2208.5 872.9)" fill="#fff" stroke="#000" stroke-width="2.2"/>
<ellipse cx="2197.9" cy="882.9" rx="3.6" ry="2.8" transform="rotate(-20 2197.9 882.9)" fill="#fff" stroke="#000" stroke-width="2.2"/>
<ellipse cx="2198.8" cy="911.8" rx="3.6" ry="2.8" transform="rotate(-20 2198.8 911.8)" fill="#fff" stroke="#000" stroke-width="2.2"/>
<ellipse cx="2208.5" cy="915.5" rx="3.6" ry="2.8" transform="rotate(-20 2208.5 915.5)" fill="#fff" stroke="#000" stroke-width="2.2"/>
<path d="M1984.5 797 L1987 792.5 L1993.5 793 L1996.5 800 L1996 806 L1992 809.5 L1986 808.5 L1983.5 802 Z" fill="#fff" stroke="#000" stroke-width="2.0"/>
<ellipse cx="1990" cy="801" rx="2.8" ry="4" fill="none" stroke="#000" stroke-width="1.3" transform="rotate(0 1990 801)"/>
<path d="M2174.1 805.7 L2293.0 754.9 L2293.0 803.0" fill="none" stroke="#000" stroke-width="2.3" stroke-linejoin="round" stroke-linecap="round" />
<g transform="translate(2293.5 811.6) rotate(0) scale(1.0)" fill="#fff" stroke="#000" stroke-linejoin="round">
<path d="M-15.3 -4.9 C-14 -8 -12 -9 -10 -9.9 C-6 -11.3 -3 -11.7 0 -11.7 C3 -11.7 7 -11 10.8 -9.3 C13 -8.3 15 -6.5 15.3 -4.9 L15.3 4.9 C13 7.5 11 9 9 9.9 C6 11.2 3 11.7 0 11.7 C-3 11.7 -6 11.2 -8.8 9.9 C-11 9 -13.5 7.5 -15.3 4.9 Z" stroke-width="2.1"/>
<path d="M-14.4 -4.3 L-7.6 0 L7.2 0 L14 -4.3 M-7.4 0 L-7.4 9.9 M7.4 0 L7.4 9.9" fill="none" stroke-width="1.0"/>
<ellipse cx="0" cy="-5.3" rx="8" ry="3.7" fill="none" stroke-width="1.6"/>
<ellipse cx="0" cy="-4.9" rx="5" ry="2.2" fill="none" stroke-width="0.9"/>
</g>
<path d="M2293.0 790.0 L2293.0 806.5" fill="none" stroke="#000" stroke-width="2.3" stroke-linejoin="round" stroke-linecap="round" />
<path d="M1226.4 1100.8 L1234.8 1103.2 L1248 1098.4 L1268.5 1108 L1268.5 1330.4 C1268.5 1360 1255 1385 1222.4 1399.5 L1046 1472.3 L1028 1475.9 L1026.8 1457.9 L1019.6 1447.1 L1024.4 1443.4 L1201.5 1370.3 C1218 1362 1226.4 1350 1226.4 1332.8 Z" fill="#fff" stroke="none"/>
<path d="M1234.8 1103.2 L1234.8 1332.3 Q1234.8 1363.8 1205.7 1376.1 L1030.0 1450.0" fill="none" stroke="#000" stroke-width="1.0" stroke-linejoin="round" stroke-linecap="round" />
<path d="M1246.8 1118.0 L1246.8 1331.5 Q1246.8 1369.6 1211.6 1384.4 L1048.0 1453.3" fill="none" stroke="#000" stroke-width="1.0" stroke-linejoin="round" stroke-linecap="round" />
<path d="M1252.8 1112.0 L1252.8 1331.1 Q1252.8 1372.5 1214.6 1388.6 L1050.0 1457.9" fill="none" stroke="#000" stroke-width="1.0" stroke-linejoin="round" stroke-linecap="round" />
<path d="M1262.5 1111.0 L1262.5 1330.5 Q1262.5 1377.2 1219.4 1395.3 L1058.0 1463.3" fill="none" stroke="#000" stroke-width="1.0" stroke-linejoin="round" stroke-linecap="round" />
<path d="M1226.4 1332.8 L1226.4 1100.8 L1234.8 1103.2 L1248 1098.4 L1268.5 1108 L1268.5 1330.4 C1268.5 1360 1255 1385 1222.4 1399.5 L1046 1472.3 L1028 1475.9 L1026.8 1457.9 L1019.6 1447.1 L1024.4 1443.4 L1201.5 1370.3 C1218 1362 1226.4 1350 1226.4 1332.8" fill="none" stroke="#000" stroke-width="2.3" stroke-linejoin="round" stroke-linecap="round" />
<path d="M1234.8 1103.2 L1234.8 1113" fill="none" stroke="#000" stroke-width="2.0" stroke-linejoin="round" stroke-linecap="round" />
<path d="M1248 1098.4 L1248 1105" fill="none" stroke="#000" stroke-width="1.0" stroke-linejoin="round" stroke-linecap="round" />
<path d="M1253 1114 L1258 1111.5 L1262.5 1113.5" fill="none" stroke="#000" stroke-width="1.0" stroke-linejoin="round" stroke-linecap="round" />
<path d="M1046 1472.3 L1044.5 1456.5 L1058 1451" fill="none" stroke="#000" stroke-width="1.0" stroke-linejoin="round" stroke-linecap="round" />
<ellipse cx="1252.2" cy="1120.6" rx="1.6" ry="5.2" fill="#fff" stroke="#000" stroke-width="1.8" transform="rotate(0 1252.2 1120.6)"/>
<ellipse cx="1251.6" cy="1183.8" rx="1.8" ry="10.5" fill="#fff" stroke="#000" stroke-width="2.0" transform="rotate(0 1251.6 1183.8)"/>
<path d="M1171.1 1154.9 L1251.0 1121.5" fill="none" stroke="#000" stroke-width="2.2" stroke-linejoin="round" stroke-linecap="round" />
<path d="M1171.1 1215.0 L1250.4 1182.6" fill="none" stroke="#000" stroke-width="2.2" stroke-linejoin="round" stroke-linecap="round" />
<path d="M1270.9 1112.8 L1356.0 1078.5" fill="none" stroke="#000" stroke-width="2.2" stroke-linejoin="round" stroke-linecap="round" />
<g transform="translate(1129.6 1171.2) rotate(-19.029987453749907) scale(1.0)" stroke="#000" stroke-linejoin="round" stroke-linecap="round"><path d="M4 -6.0 L42.6 -6.0 L42.6 6.0 L4 6.0 Z" fill="#fff" stroke-width="2.1"/><path d="M33.6 -6.8 L33.6 6.8" stroke-width="1.8" fill="none"/><ellipse cx="42.6" cy="0" rx="2.2" ry="6.0" fill="#fff" stroke-width="1.8"/></g><g transform="translate(1129.6 1171.2) rotate(0) scale(1.05)" stroke="#000" stroke-linejoin="round" stroke-linecap="round"><path d="M-9.5 -2 L-6 -10 L2 -11.5 L8.5 -6 L9.5 3 L5.5 10 L-2.5 11.5 L-9 6 Z" fill="#fff" stroke-width="2.1"/><path d="M-3 -11 L-1 -4 L8.5 -6 M-1 -4 L-3.5 7 L-9 6 M-3.5 7 L-2.5 11.5" fill="none" stroke-width="1.0"/></g>
<g transform="translate(1129.6 1233) rotate(-19.662829996286792) scale(1.0)" stroke="#000" stroke-linejoin="round" stroke-linecap="round"><path d="M4 -6.0 L42.8 -6.0 L42.8 6.0 L4 6.0 Z" fill="#fff" stroke-width="2.1"/><path d="M33.8 -6.8 L33.8 6.8" stroke-width="1.8" fill="none"/><ellipse cx="42.8" cy="0" rx="2.2" ry="6.0" fill="#fff" stroke-width="1.8"/></g><g transform="translate(1129.6 1233) rotate(0) scale(1.05)" stroke="#000" stroke-linejoin="round" stroke-linecap="round"><path d="M-9.5 -2 L-6 -10 L2 -11.5 L8.5 -6 L9.5 3 L5.5 10 L-2.5 11.5 L-9 6 Z" fill="#fff" stroke-width="2.1"/><path d="M-3 -11 L-1 -4 L8.5 -6 M-1 -4 L-3.5 7 L-9 6 M-3.5 7 L-2.5 11.5" fill="none" stroke-width="1.0"/></g>
<path d="M1341.2 1061 C1341.2 1058.5 1343 1057 1344.9 1057.3 L1373.6 1068.4 L1373.6 1186.8 C1373 1187.8 1371 1188 1369.9 1187.7 L1341.2 1175.7 Z" fill="#fff" stroke="#000" stroke-width="2.2" stroke-linejoin="round" stroke-linecap="round"/>
<path d="M1344 1059.5 L1369.9 1069.8 L1369.9 1187.5" fill="none" stroke="#000" stroke-width="1.0" stroke-linejoin="round" stroke-linecap="round" />
<ellipse cx="1356" cy="1078.5" rx="2.6" ry="4.4" fill="none" stroke="#000" stroke-width="1.8" transform="rotate(0 1356 1078.5)"/>
<ellipse cx="1356" cy="1168.3" rx="2.6" ry="4.4" fill="none" stroke="#000" stroke-width="1.8" transform="rotate(0 1356 1168.3)"/>
<path d="M1438.4 1033.2 L1443.9 1031.4 L1443.9 1016.6 L1460.6 1009.5 L1480.9 1017.5 L1480.9 1137.7 L1459.6 1147 L1458.7 1130.4 L1439.3 1137.7 Z" fill="#fff" stroke="#000" stroke-width="2.2" stroke-linejoin="round" stroke-linecap="round"/>
<path d="M1458.7 1011 L1458.7 1146" fill="none" stroke="#000" stroke-width="1.0" stroke-linejoin="round" stroke-linecap="round" />
<path d="M1459.6 1014 L1478 1021.5 L1478 1137" fill="none" stroke="#000" stroke-width="0.9" stroke-linejoin="round" stroke-linecap="round" />
<path d="M1463.4 1018.5 L1463.4 1041 L1460 1042.5 M1463.4 1018.5 L1479.5 1011.5" fill="none" stroke="#000" stroke-width="1.0" stroke-linejoin="round" stroke-linecap="round" />
<path d="M1376.4 1069.3 L1460.6 1034.1" fill="none" stroke="#000" stroke-width="2.2" stroke-linejoin="round" stroke-linecap="round" />
<path d="M1341.5 1084.6 L1356.0 1078.5" fill="none" stroke="#000" stroke-width="2.2" stroke-linejoin="round" stroke-linecap="round" />
<path d="M1482.8 1023.0 L1530.0 1003.0" fill="none" stroke="#000" stroke-width="2.2" stroke-linejoin="round" stroke-linecap="round" />
<path d="M1546.6 995.3 L1592.0 976.0" fill="none" stroke="#000" stroke-width="2.2" stroke-linejoin="round" stroke-linecap="round" />
<g transform="translate(1535.5 1000) rotate(0) scale(1.0)" stroke="#000" stroke-linejoin="round" stroke-linecap="round"><ellipse cx="-1" cy="0.5" rx="9.2" ry="11" transform="rotate(20 -1 0.5)" fill="#fff" stroke-width="2.0"/><ellipse cx="0" cy="0" rx="9.2" ry="11" transform="rotate(20)" fill="#fff" stroke-width="2.0"/><ellipse cx="0.5" cy="0" rx="3.6" ry="5" transform="rotate(20)" fill="#fff" stroke-width="1.6"/></g>
<path d="M1522.0 1006.0 L1536.0 1000.3" fill="none" stroke="#000" stroke-width="2.2" stroke-linejoin="round" stroke-linecap="round" />
<g transform="translate(1600.3 972.6) rotate(0) scale(1.0)" stroke="#000" stroke-linejoin="round" stroke-linecap="round"><path d="M-11.8 -2.1 L-9.1 -8.9 L-1 -13 L7.8 -9.6 L11.9 0.6 L9.9 8.7 L1.8 12.8 L-7 10.1 Z" fill="#fff" stroke-width="2.0"/><path d="M-1 -13 L3.5 -3.5 L11.9 0.6 M3.5 -3.5 L1.8 12.8" fill="none" stroke-width="0.9"/><ellipse cx="-3.2" cy="1.5" rx="6.8" ry="8.3" fill="#fff" stroke-width="2.2"/><ellipse cx="-2.6" cy="1.5" rx="3.8" ry="5.2" fill="none" stroke-width="1.4"/></g>
<path d="M1586.0 979.0 L1597.5 974.2" fill="none" stroke="#000" stroke-width="2.2" stroke-linejoin="round" stroke-linecap="round" />
<path d="M1406.9 1004.5 L1440.2 1018.4" fill="none" stroke="#000" stroke-width="2.2" stroke-linejoin="round" stroke-linecap="round" />
<path d="M1406.9 997.1 L1461.5 974.0" fill="none" stroke="#000" stroke-width="2.2" stroke-linejoin="round" stroke-linecap="round" />
<g transform="translate(1384.5 993.5) rotate(23) scale(1.0)" stroke="#000" stroke-linejoin="round" stroke-linecap="round"><path d="M0 -5.3 L24 -5.3 L24 5.3 L0 5.3 Z" fill="#fff" stroke-width="2.0"/><path d="M16 -5.3 L16 5.3" fill="none" stroke-width="1.2"/><ellipse cx="0" cy="0" rx="4.3" ry="7.5" fill="#fff" stroke-width="2.2"/><ellipse cx="0.6" cy="0" rx="2.2" ry="5.5" fill="none" stroke-width="1.0"/></g>
<path d="M1464.3 969 L1488 960.5 M1465 972 L1488.7 963.5" fill="none" stroke="#000" stroke-width="1.0" stroke-linejoin="round" stroke-linecap="round" />
<g transform="translate(1497.5 957) rotate(0) scale(1.0)" stroke="#000" stroke-linejoin="round" stroke-linecap="round"><ellipse cx="0" cy="0" rx="10" ry="7.3" transform="rotate(-35)" fill="#fff" stroke-width="1.3"/><ellipse cx="0.5" cy="-0.3" rx="6.2" ry="3.8" transform="rotate(-35)" fill="#fff" stroke-width="1.3"/></g>
<g stroke="#000" stroke-width="3.6" fill="none">
<line x1="1166.5" y1="131" x2="1166.5" y2="184"/>
<line x1="1016" y1="216" x2="1016" y2="268"/>
<line x1="1403" y1="205" x2="1403" y2="257.5"/>
<line x1="1525" y1="257.5" x2="1525" y2="310"/>
<line x1="1689" y1="326" x2="1689" y2="378.5"/>
<line x1="1331" y1="355" x2="1331" y2="406.5"/>
<line x1="776" y1="517" x2="776" y2="571"/>
<line x1="968.5" y1="844" x2="968.5" y2="896"/>
<line x1="340.5" y1="741.5" x2="340.5" y2="790"/>
<line x1="357.5" y1="1070" x2="357.5" y2="1117.5"/>
<line x1="755" y1="1348.5" x2="755" y2="1397"/>
<line x1="1128.5" y1="1107.5" x2="1128.5" y2="1157.5"/>
<line x1="1129.5" y1="1246.5" x2="1129.5" y2="1295"/>
<line x1="1243" y1="1043.5" x2="1243" y2="1095"/>
<line x1="1345" y1="1001.5" x2="1345" y2="1052.5"/>
<line x1="1495" y1="928" x2="1495" y2="943.5"/>
<line x1="1386.5" y1="928" x2="1386.5" y2="979.6"/>
<line x1="1537" y1="1014" x2="1537" y2="1065"/>
<line x1="1603.5" y1="990" x2="1603.5" y2="1037.5"/>
<line x1="1800" y1="1057.5" x2="1800" y2="1110"/>
<line x1="1960" y1="1131.5" x2="1960" y2="1185"/>
<line x1="1358.5" y1="566.5" x2="1358.5" y2="617.5"/>
<line x1="1485.5" y1="622.5" x2="1485.5" y2="672.5"/>
<line x1="1649" y1="604" x2="1649" y2="655"/>
<line x1="1851.5" y1="587.5" x2="1851.5" y2="640"/>
<line x1="2061" y1="475" x2="2061" y2="526"/>
<line x1="2208" y1="545" x2="2208" y2="595"/>
<line x1="1643" y1="782.5" x2="1643" y2="831"/>
<line x1="1990.5" y1="813.4" x2="1990.5" y2="862.5"/>
<line x1="807.5" y1="714" x2="859" y2="714"/>
<line x1="794" y1="854.5" x2="845" y2="854.5"/>
<line x1="118.5" y1="921" x2="166.5" y2="921"/>
<line x1="245" y1="916.5" x2="296" y2="916.5"/>
<line x1="106" y1="1246.5" x2="154" y2="1246.5"/>
<line x1="109" y1="1357.5" x2="157.5" y2="1357.5"/>
<line x1="109" y1="1467" x2="157.5" y2="1467"/>
<line x1="2148" y1="444.5" x2="2200.5" y2="444.5"/>
<line x1="2312" y1="810" x2="2364.5" y2="810"/>
</g>
<g font-family="Liberation Sans" font-weight="bold" font-size="36" text-anchor="middle" fill="#000">
<text x="1166.5" y="119">7</text>
<text x="1016" y="203.5">8</text>
<text x="1403" y="193.5">27</text>
<text x="1525.5" y="246">26</text>
<text x="1689" y="315">26</text>
<text x="1331" y="344">28</text>
<text x="776" y="506">7</text>
<text x="880.5" y="727.5">9</text>
<text x="877" y="868.5">10</text>
<text x="968.5" y="831.5">7</text>
<text x="340.5" y="831">6</text>
<text x="95.5" y="934">4</text>
<text x="318" y="930">5</text>
<text x="358" y="1158.5">6</text>
<text x="83" y="1260">3</text>
<text x="87" y="1372">2</text>
<text x="87" y="1481">2</text>
<text x="755" y="1437">1</text>
<text x="1128" y="1095">11</text>
<text x="1129" y="1336.5">12</text>
<text x="1243" y="1031">13</text>
<text x="1345.5" y="990">14</text>
<text x="1496" y="879">16</text>
<text x="1537" y="1106">3</text>
<text x="1604" y="1078.5">17</text>
<text x="1800" y="1046">18</text>
<text x="1960" y="1120">7</text>
<text x="1359" y="659">27</text>
<text x="1486" y="712.5">26</text>
<text x="1649" y="592.5">26</text>
<text x="1851" y="575">24</text>
<text x="2061" y="463.5">23</text>
<text x="2231.5" y="459">22</text>
<text x="2206.5" y="635">21</text>
<text x="1643" y="872">25</text>
<text x="1991" y="902.5">19</text>
<text x="2396" y="822.5">20</text>
<text x="1383.5" y="915">15</text>
</g>
<text x="932" y="928" font-family="Liberation Sans" font-size="80" fill="#fff" stroke="#000" stroke-width="2.4" textLength="699" lengthAdjust="spacing">supplypartstore.com</text>
<text x="1068.5" y="913.7" font-family="Liberation Sans" font-size="38.5" fill="#0a63c2" textLength="427" lengthAdjust="spacing">www.supplypartstore.com</text>
<circle cx="2504.4" cy="252.4" r="1.1" fill="#333"/>
<text x="2151" y="1755" font-family="Liberation Sans" font-size="40" fill="#000" stroke="#000" stroke-width="0.5" textLength="344" lengthAdjust="spacingAndGlyphs">A0201-2702010272</text>
</svg></body></html>
